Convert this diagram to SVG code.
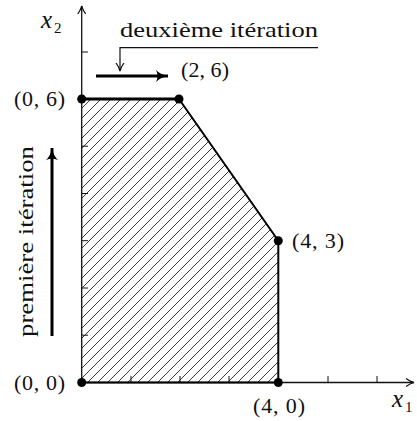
<svg xmlns="http://www.w3.org/2000/svg" width="417" height="421" viewBox="0 0 417 421">
<style>
.t{font-family:"Liberation Serif","DejaVu Serif",serif;font-size:22px;fill:#111}
.i{font-style:italic;font-size:25px}
.s{font-size:15px}
.ax{stroke:#111;stroke-width:1.3;fill:none}
.tk{stroke:#111;stroke-width:1}
.bd{stroke:#000;stroke-width:2;fill:none;stroke-linejoin:round}
.th{stroke:#000;stroke-width:3;fill:none}
</style>
<defs>
<pattern id="hatch" patternUnits="userSpaceOnUse" width="10" height="10">
<path d="M0,10 L10,0 M-2,2 L2,-2 M8,12 L12,8" stroke="#222" stroke-width="0.9"/>
</pattern>
<marker id="ah" markerWidth="10" markerHeight="10" refX="8" refY="5" orient="auto" markerUnits="userSpaceOnUse">
<path d="M0,1 Q4,4 8,5 Q4,6 0,9" fill="none" stroke="#111" stroke-width="1.2"/>
</marker>
<marker id="ahb" markerWidth="16" markerHeight="14" refX="12" refY="7" orient="auto" markerUnits="userSpaceOnUse">
<path d="M0,1 Q4,5.5 12,7 Q4,8.5 0,13 Q3,7 0,1 Z" fill="#000"/>
</marker>
</defs>
<g id="region">
<polygon points="81.7,382.5 278.3,382.5 278.3,240.7 179,99 81.7,99" fill="url(#hatch)" stroke="none"/>
</g>
<g id="axes">
<line class="ax" x1="81.7" y1="382.5" x2="414" y2="382.5" marker-end="url(#ah)"/>
<line class="ax" x1="81.7" y1="382.5" x2="81.7" y2="6" marker-end="url(#ah)"/>
<g class="tk">
<line x1="131" y1="382.5" x2="131" y2="376"/>
<line x1="180" y1="382.5" x2="180" y2="376"/>
<line x1="229" y1="382.5" x2="229" y2="376"/>
<line x1="328" y1="382.5" x2="328" y2="376"/>
<line x1="377" y1="382.5" x2="377" y2="376"/>
<line x1="81.7" y1="335.2" x2="88" y2="335.2"/>
<line x1="81.7" y1="288" x2="88" y2="288"/>
<line x1="81.7" y1="240.7" x2="88" y2="240.7"/>
<line x1="81.7" y1="193.5" x2="88" y2="193.5"/>
<line x1="81.7" y1="146.2" x2="88" y2="146.2"/>
<line x1="81.7" y1="52" x2="88" y2="52"/>
</g>
<text class="t i" x="41" y="28">x</text><text class="t s" x="54" y="33">2</text>
<text class="t i" x="392" y="407">x</text><text class="t s" x="405" y="412">1</text>
</g>
<g id="boundary">
<polyline class="bd" points="81.7,382.5 278.3,382.5 278.3,240.7 179,99"/>
<line class="th" x1="81.7" y1="99" x2="179" y2="99"/>
</g>
<g id="p00"><circle cx="81.7" cy="382.5" r="4.5"/><text class="t" x="14" y="390" textLength="51">(0, 0)</text></g>
<g id="p40"><circle cx="278.3" cy="382.5" r="4.5"/><text class="t" x="253" y="413" textLength="52">(4, 0)</text></g>
<g id="p43"><circle cx="278.3" cy="240.7" r="4.5"/><text class="t" x="292" y="248" textLength="52">(4, 3)</text></g>
<g id="p26"><circle cx="179" cy="99" r="4.5"/><text class="t" x="181" y="77" textLength="48">(2, 6)</text></g>
<g id="p06"><circle cx="81.7" cy="99" r="4.5"/><text class="t" x="14" y="106" textLength="51">(0, 6)</text></g>
<g id="connectors">
<line x1="96" y1="76" x2="168" y2="76" stroke="#000" stroke-width="3" marker-end="url(#ahb)"/>
<line x1="52" y1="336" x2="52" y2="148" stroke="#000" stroke-width="3" marker-end="url(#ahb)"/>
<polyline points="318,47.7 120,47.7 120,71" fill="none" stroke="#111" stroke-width="1.2" marker-end="url(#ah)"/>
</g>
<g id="labels">
<text class="t" x="120" y="37" textLength="198" lengthAdjust="spacingAndGlyphs">deuxième itération</text>
<text class="t" transform="translate(33,337) rotate(-90)" x="0" y="0" textLength="191" lengthAdjust="spacingAndGlyphs">première itération</text>
</g>
</svg>
